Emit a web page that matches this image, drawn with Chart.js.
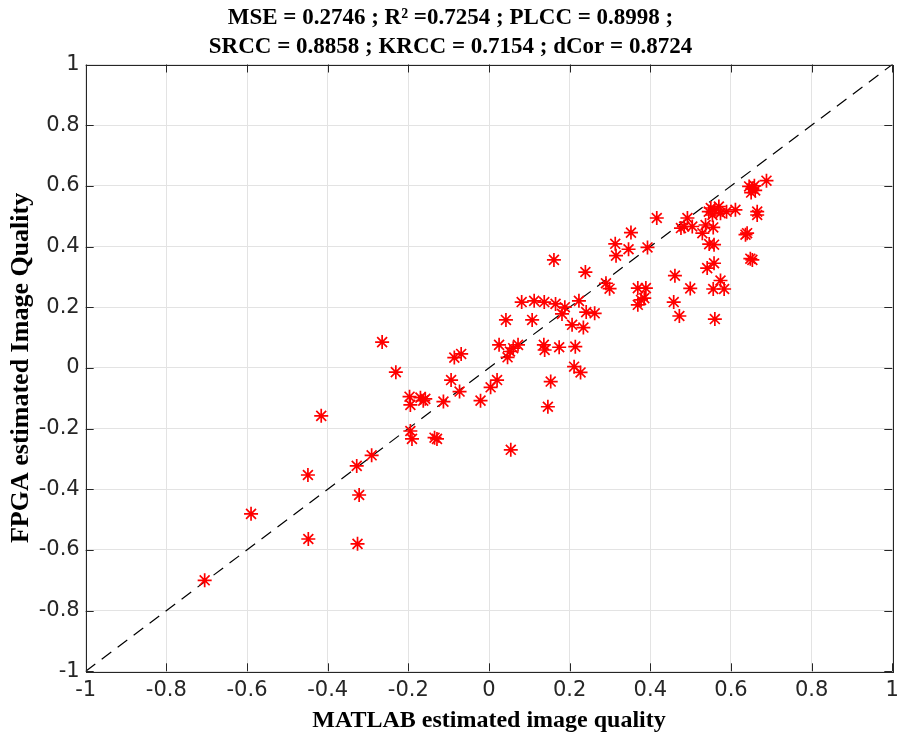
<!DOCTYPE html>
<html>
<head>
<meta charset="utf-8">
<title>FPGA vs MATLAB image quality</title>
<script src="https://cdn.jsdelivr.net/npm/chart.js@4.4.1/dist/chart.umd.min.js"></script>
<style>
  html, body { margin: 0; padding: 0; background: #fff; }
  #wrap { width: 901px; height: 738px; }
</style>
</head>
<body>
<div id="wrap"><canvas id="scatter" width="901" height="738"></canvas></div>
<script>
'use strict';

// quality scores per test image: MATLAB reference vs FPGA implementation
const matlabScores = [
  -0.705, -0.590, -0.449, -0.448, -0.416, -0.328, -0.322, -0.326, -0.291, -0.265,
  -0.231, -0.197, -0.195, -0.170, -0.163, -0.158, -0.195, -0.191, -0.135, -0.129,
  -0.113, -0.094, -0.086, -0.069, -0.073, -0.021, 0.004, 0.020, 0.025, 0.046,
  0.052, 0.060, 0.072, 0.136, 0.138, 0.174, 0.153, 0.146, 0.054, 0.211,
  0.227, 0.214, 0.042, 0.107, 0.081, 0.112, 0.137, 0.165, 0.188, 0.181,
  0.223, 0.206, 0.234, 0.241, 0.262, 0.161, 0.239, 0.290, 0.299, 0.313,
  0.315, 0.346, 0.352, 0.393, 0.416, 0.369, 0.389, 0.369, 0.377, 0.385,
  0.461, 0.458, 0.472, 0.499, 0.541, 0.558, 0.574, 0.556, 0.583, 0.560,
  0.648, 0.653, 0.636, 0.640, 0.665, 0.665, 0.688, 0.653, 0.645, 0.660,
  0.650, 0.658, 0.611, 0.589, 0.570, 0.550, 0.554, 0.574, 0.545, 0.560,
  0.537, 0.556, 0.529, 0.492, 0.484, 0.504, 0.476, 0.546, 0.558
];
const fpgaScores = [
  -0.700, -0.481, -0.353, -0.564, -0.158, -0.323, -0.419, -0.580, -0.288, 0.085,
  -0.014, -0.095, -0.122, -0.098, -0.108, -0.102, -0.208, -0.234, -0.230, -0.234,
  -0.111, -0.040, 0.034, 0.046, -0.078, -0.108, -0.064, -0.040, 0.076, 0.035,
  0.054, 0.065, 0.076, 0.076, 0.059, 0.068, -0.045, -0.128, -0.270, 0.004,
  -0.015, 0.070, 0.158, 0.158, 0.217, 0.221, 0.217, 0.211, 0.200, 0.178,
  0.221, 0.142, 0.133, 0.184, 0.180, 0.356, 0.316, 0.279, 0.261, 0.409,
  0.370, 0.391, 0.446, 0.397, 0.494, 0.263, 0.263, 0.208, 0.224, 0.230,
  0.304, 0.217, 0.171, 0.262, 0.329, 0.345, 0.288, 0.260, 0.260, 0.161,
  0.360, 0.356, 0.439, 0.444, 0.515, 0.504, 0.617, 0.592, 0.598, 0.585,
  0.578, 0.600, 0.521, 0.515, 0.532, 0.527, 0.504, 0.510, 0.515, 0.520,
  0.471, 0.463, 0.444, 0.494, 0.466, 0.466, 0.461, 0.408, 0.406
];

// identity line y = x
const identityLine = [-1, 1];

const tickValues = [-1, -0.8, -0.6, -0.4, -0.2, 0, 0.2, 0.4, 0.6, 0.8, 1];

const titleLines = [
  'MSE = 0.2746 ; R\u00b2 =0.7254 ; PLCC = 0.8998 ;',
  'SRCC = 0.8858 ; KRCC = 0.7154 ; dCor = 0.8724'
];
const xTitle = 'MATLAB estimated image quality';
const yTitle = 'FPGA estimated Image Quality';

const points = [];
for (let i = 0; i < matlabScores.length; i++) {
  points.push({ x: matlabScores[i], y: fpgaScores[i] });
}

const axisColor = '#262626';
const serif = '"Liberation Serif", "Times New Roman", serif';
const sans = '"DejaVu Sans", sans-serif';

function fixedTicks(scale) {
  scale.ticks = tickValues.map(v => ({ value: v }));
}

// box round the axes with the tick marks pointing inwards
const axesBox = {
  id: 'axesBox',
  afterDatasetsDraw(chart) {
    const { ctx, chartArea: a, scales } = chart;
    const len = 8;
    ctx.save();
    ctx.strokeStyle = axisColor;
    ctx.lineWidth = 1;
    ctx.beginPath();
    tickValues.forEach(v => {
      const px = Math.round(scales.x.getPixelForValue(v)) + 0.5;
      ctx.moveTo(px, a.bottom); ctx.lineTo(px, a.bottom - len);
      ctx.moveTo(px, a.top); ctx.lineTo(px, a.top + len);
      const py = Math.round(scales.y.getPixelForValue(v)) + 0.5;
      ctx.moveTo(a.left, py); ctx.lineTo(a.left + len, py);
      ctx.moveTo(a.right, py); ctx.lineTo(a.right - len, py);
    });
    ctx.stroke();
    ctx.strokeRect(Math.round(a.left) + 0.5, Math.round(a.top) + 0.5,
      Math.round(a.right - a.left), Math.round(a.bottom - a.top));
    ctx.restore();
  }
};

let ctx = document.getElementById('scatter').getContext('2d');

// eslint-disable-next-line no-unused-vars
let qualityChart = new Chart(ctx, {
  type: 'scatter',
  data: {
    datasets: [{
      type: 'line',
      data: identityLine.map(v => ({ x: v, y: v })),
      borderColor: '#000',
      borderWidth: 1.2,
      borderDash: [12, 8],
      pointRadius: 0,
      fill: false,
      order: 2
    }, {
      data: points,
      pointStyle: 'star',
      pointRadius: 7,
      borderColor: '#ff0000',
      backgroundColor: '#ff0000',
      pointBorderWidth: 1.7,
      order: 1
    }]
  },
  options: {
    responsive: false,
    animation: false,
    layout: { padding: 0 },
    plugins: {
      legend: { display: false },
      tooltip: { enabled: false },
      title: {
        display: true,
        text: titleLines,
        color: '#000',
        font: { family: serif, size: 23, weight: 'bold', lineHeight: 1.25 },
        padding: { top: 3.5, bottom: 3.5 }
      }
    },
    scales: {
      x: {
        type: 'linear',
        min: -1,
        max: 1,
        afterBuildTicks: fixedTicks,
        afterFit(scale) {
          scale.height = 66.7;
          scale.paddingLeft = 0;
          scale.paddingRight = 5;
        },
        grid: { color: '#e3e3e3', drawTicks: false },
        border: { display: false },
        ticks: {
          color: axisColor,
          padding: 7,
          maxRotation: 0,
          font: { family: sans, size: 21 },
          callback: v => String(v)
        },
        title: {
          display: true,
          text: xTitle,
          color: '#000',
          font: { family: serif, size: 24, weight: 'bold' },
          padding: { top: 0, bottom: 3 }
        }
      },
      y: {
        type: 'linear',
        min: -1,
        max: 1,
        afterBuildTicks: fixedTicks,
        afterFit(scale) { scale.width = 85.7; },
        grid: { color: '#e3e3e3', drawTicks: false },
        border: { display: false },
        ticks: {
          color: axisColor,
          padding: 6,
          font: { family: sans, size: 21 },
          callback: v => String(v)
        },
        title: {
          display: true,
          text: yTitle,
          color: '#000',
          font: { family: serif, size: 26, weight: 'bold' },
          padding: { top: 6, bottom: 0 }
        }
      }
    }
  },
  plugins: [axesBox]
});
</script>
</body>
</html>
